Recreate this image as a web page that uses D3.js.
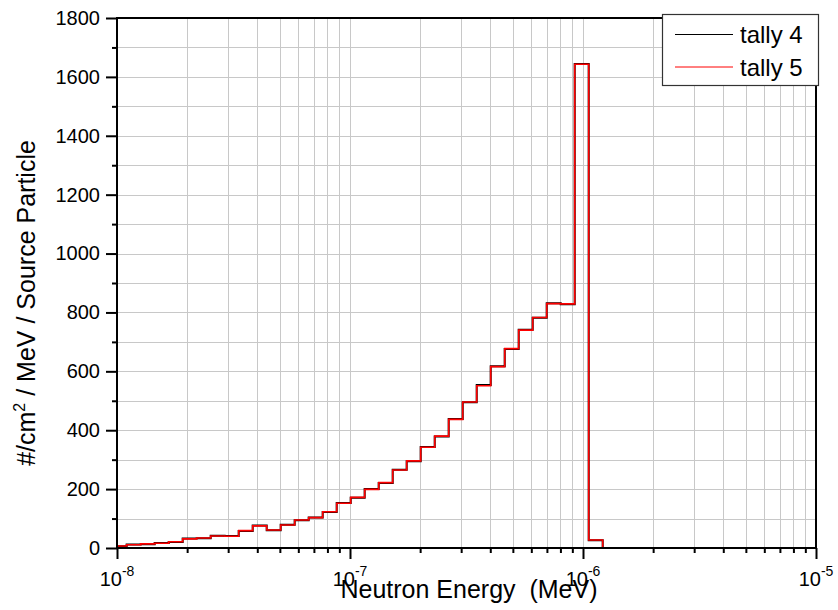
<!DOCTYPE html>
<html>

<head>
    <script src="https://cdn.jsdelivr.net/npm/d3@7"></script>
    <style>
        body { margin: 0; background: white; }
        text { font-family: "Liberation Sans", Arial, sans-serif; fill: black; white-space: pre; }
    </style>
    <script>
        const w = 838
        const h = 610
        const plot = { left: 117, right: 816, top: 18, bottom: 548 }

        // bin edges in MeV, last bin runs to 1e-5
        const energyEdges = [1.00e-8, 1.10e-8, 1.264e-8, 1.451e-8, 1.667e-8, 1.914e-8, 2.198e-8, 2.524e-8,
            2.899e-8, 3.329e-8, 3.823e-8, 4.390e-8, 5.041e-8, 5.789e-8, 6.648e-8, 7.635e-8, 8.768e-8,
            1.007e-7, 1.156e-7, 1.328e-7, 1.525e-7, 1.751e-7, 2.011e-7, 2.310e-7, 2.652e-7, 3.046e-7,
            3.498e-7, 4.017e-7, 4.613e-7, 5.297e-7, 6.083e-7, 6.986e-7, 8.023e-7, 9.213e-7, 1.058e-6,
            1.215e-6, 1.0e-5]
        const tally4 = [6, 12, 13, 17, 20, 32, 33, 42, 41, 58, 76, 60, 79, 94, 104, 122, 153, 171, 200, 221,
            266, 295, 343, 379, 438, 495, 554, 617, 676, 741, 782, 831, 828, 1644, 26, 0]
        const tally5 = [7, 11, 14, 16, 21, 31, 34, 41, 40, 59, 75, 61, 78, 95, 103, 123, 152, 172, 199, 222,
            265, 296, 342, 380, 437, 496, 551, 616, 677, 740, 783, 830, 829, 1643, 27, 0]
        const seriesNames = ["tally 4", "tally 5"]
        const seriesColors = ["black", "red"]
        const xTickExps = [-8, -7, -6, -5]
        const yTicks = [0, 200, 400, 600, 800, 1000, 1200, 1400, 1600, 1800]

        function draw() {
            const svg = d3.select("body").append("svg")
                .attr("width", w)
                .attr("height", h)

            const x = d3.scaleLog().domain([1e-8, 1e-5]).range([plot.left, plot.right])
            const y = d3.scaleLinear().domain([0, 1800]).range([plot.bottom, plot.top])

            // minor positions: 2..9 x 10^n
            const xMinor = []
            for (let e = -8; e < -5; e++) for (let m = 2; m <= 9; m++) xMinor.push(m * Math.pow(10, e))
            const yMinor = d3.range(100, 1800, 200)

            // grid
            const grid = svg.append("g").attr("stroke", "#c8c8c8").attr("stroke-width", 1)
            grid.selectAll(".gx").data(xMinor.concat(xTickExps.map(e => Math.pow(10, e)))).enter()
                .append("line")
                .attr("x1", d => Math.round(x(d)) + 0.5).attr("x2", d => Math.round(x(d)) + 0.5)
                .attr("y1", plot.top).attr("y2", plot.bottom)
            grid.selectAll(".gy").data(d3.range(0, 1801, 100)).enter()
                .append("line")
                .attr("x1", plot.left).attr("x2", plot.right)
                .attr("y1", d => Math.round(y(d)) + 0.5).attr("y2", d => Math.round(y(d)) + 0.5)

            // step lines, black first then red over it
            const line = d3.line()
                .x(d => x(d[0]))
                .y(d => y(d[1]))
                .curve(d3.curveStepAfter)
            ;[tally4, tally5].forEach((vals, i) => {
                const pts = vals.map((v, j) => [energyEdges[j], v])
                pts.push([energyEdges[energyEdges.length - 1], vals[vals.length - 1]])
                svg.append("path")
                    .attr("d", line(pts))
                    .attr("fill", "none")
                    .attr("stroke", seriesColors[i])
                    .attr("stroke-width", i == 0 ? 2 : 1.6)
            })

            // frame
            svg.append("rect")
                .attr("x", plot.left).attr("y", plot.top)
                .attr("width", plot.right - plot.left).attr("height", plot.bottom - plot.top)
                .attr("fill", "none").attr("stroke", "black").attr("stroke-width", 2)

            // bottom axis
            const xAxis = svg.append("g").attr("transform", `translate(0, ${plot.bottom})`)
            xAxis.append("g")
                .call(d3.axisBottom(x).tickValues(xTickExps.map(e => Math.pow(10, e))).tickSize(11).tickFormat(""))
                .call(g => g.select(".domain").remove())
                .call(g => g.selectAll("line").attr("stroke-width", 2))
            xAxis.append("g")
                .call(d3.axisBottom(x).tickValues(xMinor).tickSize(5).tickFormat(""))
                .call(g => g.select(".domain").remove())
                .call(g => g.selectAll("line").attr("stroke-width", 2))

            const xl = svg.selectAll(".xlab").data(xTickExps).enter()
                .append("text")
                .attr("x", d => x(Math.pow(10, d)))
                .attr("y", 586)
                .attr("text-anchor", "middle")
                .attr("font-size", 20)
            xl.append("tspan").text("10")
            xl.append("tspan").attr("font-size", 14).attr("dy", -10).text(d => d)

            // left axis
            const yAxis = svg.append("g").attr("transform", `translate(${plot.left}, 0)`)
            yAxis.append("g")
                .call(d3.axisLeft(y).tickValues(yTicks).tickSize(11).tickPadding(6).tickFormat(d3.format("d")))
                .call(g => g.select(".domain").remove())
                .call(g => g.selectAll("line").attr("stroke-width", 2))
                .call(g => g.selectAll("text").attr("font-size", 20).attr("font-family", null))
            yAxis.append("g")
                .call(d3.axisLeft(y).tickValues(yMinor).tickSize(5).tickFormat(""))
                .call(g => g.select(".domain").remove())
                .call(g => g.selectAll("line").attr("stroke-width", 2))

            // titles
            svg.append("text")
                .attr("x", 469).attr("y", 598)
                .attr("text-anchor", "middle")
                .attr("font-size", 25)
                .text("Neutron Energy  (MeV)")
            const yt = svg.append("text")
                .attr("transform", "translate(35, 303) rotate(-90)")
                .attr("text-anchor", "middle")
                .attr("font-size", 25)
            yt.append("tspan").text("#/cm")
            yt.append("tspan").attr("font-size", 16).attr("dy", -10).text("2")
            yt.append("tspan").attr("dy", 10).text(" / MeV / Source Particle")

            // legend
            const lg = svg.append("g")
            lg.append("rect")
                .attr("x", 662.5).attr("y", 14.5).attr("width", 156).attr("height", 71)
                .attr("fill", "white").attr("stroke", "#333").attr("stroke-width", 1.2)
            seriesNames.forEach((name, i) => {
                const ly = 34.5 + i * 32.5
                lg.append("line")
                    .attr("x1", 675).attr("x2", 733).attr("y1", ly).attr("y2", ly)
                    .attr("stroke", seriesColors[i]).attr("stroke-width", 1)
                lg.append("text")
                    .attr("x", 740).attr("y", ly + 8.5)
                    .attr("font-size", 24)
                    .text(name)
            })
        }
    </script>
</head>

<body onload="draw()">
</body>

</html>
